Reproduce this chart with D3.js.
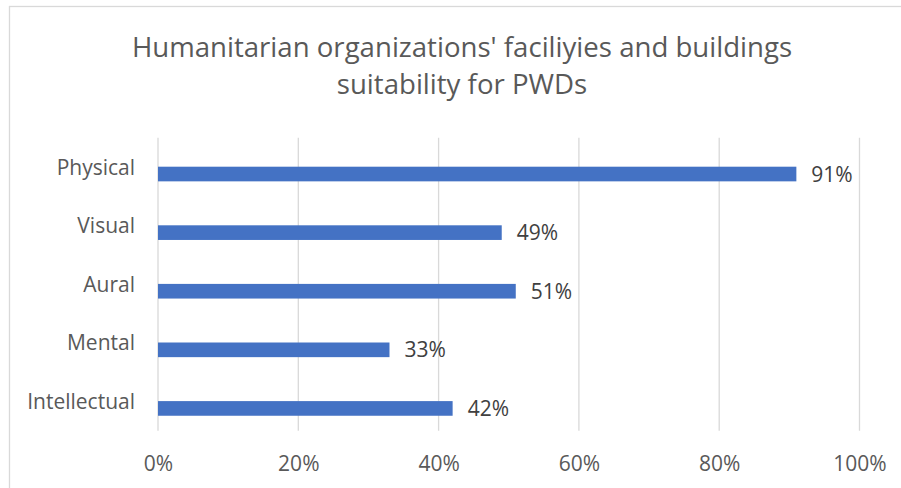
<!DOCTYPE html>
<html>
<head>
<meta charset="utf-8">
<script src="https://cdn.jsdelivr.net/npm/d3@7"></script>
<style>
  html, body { margin: 0; padding: 0; background: #fff; }
  svg { display: block; }
  text { font-family: "Open Sans", Lato, sans-serif; }
</style>
</head>
<body>
<svg id="chart" width="901" height="488"></svg>
<script>
// Share of humanitarian facilities suitable for each disability type
const categories = ["Physical", "Visual", "Aural", "Mental", "Intellectual"];
const values = [0.91, 0.49, 0.51, 0.33, 0.42];
const xTicks = [0, 0.2, 0.4, 0.6, 0.8, 1.0];
const titleLines = ["Humanitarian organizations' faciliyies and buildings", "suitability for PWDs"];

const FONT = "'Open Sans', Lato, sans-serif";
const LABEL_SIZE = "21px";

const svg = d3.select("#chart");
const W = 901, H = 488;

// chart frame
svg.append("rect")
  .attr("x", 9.5).attr("y", 6.5)
  .attr("width", W + 10).attr("height", H + 10)
  .attr("fill", "#fff").attr("stroke", "#d9d9d9").attr("stroke-width", 1.3);

const plot = { left: 158, right: 859.5, top: 137.7, bottom: 430.7 };

const x = d3.scaleLinear().domain([0, 1]).range([plot.left, plot.right]);
const y = d3.scaleBand().domain(categories).range([plot.top, plot.bottom]).padding(0);

// title
svg.append("text")
  .attr("x", 462).attr("text-anchor", "middle")
  .attr("fill", "#595959").style("font-size", "27.6px")
  .selectAll("tspan").data(titleLines).join("tspan")
  .attr("x", 462)
  .attr("y", (d, i) => 56.7 + i * 37.3)
  .text(d => d);

// vertical gridlines
svg.append("g")
  .selectAll("line").data(xTicks).join("line")
  .attr("x1", d => x(d)).attr("x2", d => x(d))
  .attr("y1", plot.top).attr("y2", plot.bottom)
  .attr("stroke", "#d9d9d9").attr("stroke-width", 1.3);

// x axis labels
const xAxis = d3.axisBottom(x).tickValues(xTicks).tickFormat(d3.format(".0%")).tickSize(0).tickPadding(0);
const gx = svg.append("g").attr("transform", `translate(0,${plot.bottom})`).call(xAxis);
gx.select(".domain").remove();
gx.selectAll("text")
  .attr("y", 40).attr("dy", null)
  .attr("fill", "#595959").style("font-size", LABEL_SIZE).style("font-family", FONT);

// y axis category labels
const yAxis = d3.axisLeft(y).tickSize(0).tickPadding(23);
const gy = svg.append("g").attr("transform", `translate(${plot.left},0)`).call(yAxis);
gy.select(".domain").remove();
gy.selectAll("text")
  .attr("dy", "0.36em")
  .attr("fill", "#595959").style("font-size", LABEL_SIZE).style("font-family", FONT);

// bars sit in the lower half of each category band
const barH = y.bandwidth() * 0.25;
const barTop = c => y(c) + y.bandwidth() / 2 - 0.3;

svg.append("g")
  .selectAll("rect").data(categories).join("rect")
  .attr("x", x(0))
  .attr("y", c => barTop(c))
  .attr("width", (c, i) => x(values[i]) - x(0))
  .attr("height", barH)
  .attr("fill", "#4472c4");

// value labels
svg.append("g")
  .selectAll("text").data(categories).join("text")
  .attr("x", (c, i) => x(values[i]) + 15)
  .attr("y", c => barTop(c) + barH / 2)
  .attr("dy", "0.36em")
  .attr("fill", "#404040").style("font-size", LABEL_SIZE)
  .text((c, i) => d3.format(".0%")(values[i]));
</script>
</body>
</html>
